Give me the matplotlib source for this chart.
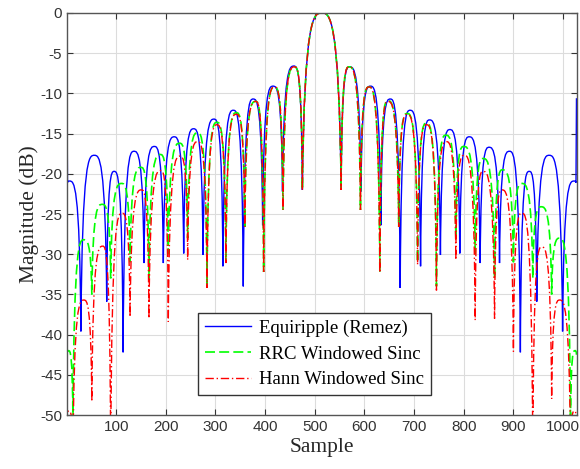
import matplotlib
matplotlib.use("Agg")
import matplotlib.pyplot as plt
from matplotlib.path import Path
from matplotlib.patches import PathPatch

# lobe nulls / peaks (x = sample, y = dB)
blue_null_x = [2, 29, 81, 114, 156, 195, 236, 275, 315, 356, 395, 435, 475,
               553, 593, 633, 672, 713, 753, 792, 833, 872, 914, 947, 999, 1026]
blue_null_db = [-21.1, -39.6, -35.9, -42.2, -31.1, -31.1, -29.9, -30.1, -31.5, -34.0, -26.4, -22.2, -22.0,
                -22.0, -22.2, -26.4, -34.2, -31.5, -30.1, -29.9, -31.1, -31.1, -42.2, -35.9, -39.6, -21.1]
blue_peak_x = [6, 56, 96, 136, 177, 217, 256, 297, 336, 376, 416, 458, 514,
               570, 612, 652, 692, 731, 772, 811, 851, 892, 932, 972, 1022]
blue_peak_db = [-20.9, -17.7, -19.7, -17.2, -16.6, -15.4, -14.4, -13.2, -12.1, -10.7, -9.1, -6.6, 0.0,
                -6.7, -9.1, -10.7, -12.1, -13.3, -14.5, -15.4, -16.7, -17.2, -19.7, -17.7, -20.9]
blue_edge_x = [1, 1027]
blue_edge_db = [-10.6, -10.6]

green_null_x = [1, 13, 51, 89, 128, 166, 205, 244, 283, 321, 359, 397, 436, 475,
                553, 592, 631, 669, 707, 745, 784, 823, 862, 900, 939, 977, 1015, 1027]
green_null_db = [-42.5, -51.0, -35.0, -33.0, -31.0, -33.0, -30.0, -28.0, -34.0, -31.0, -26.6, -32.2, -24.5, -22.0,
                 -22.0, -24.5, -32.2, -26.6, -31.0, -34.0, -28.0, -30.0, -33.0, -31.0, -33.0, -35.0, -51.0, -42.5]
green_peak_x = [4, 35, 72, 111, 150, 189, 228, 264, 303, 342, 381, 419, 459, 514,
                569, 609, 647, 686, 725, 764, 800, 839, 878, 917, 956, 993, 1024]
green_peak_db = [-42.0, -28.2, -23.8, -21.2, -19.2, -17.6, -16.2, -14.9, -13.6, -12.4, -11.0, -9.2, -6.7, 0.0,
                 -6.7, -9.2, -10.9, -12.5, -13.7, -15.2, -16.6, -18.1, -19.5, -21.2, -24.1, -28.0, -42.0]

red_null_x = [1, 13, 51, 89, 128, 166, 205, 244, 283, 321, 359, 397, 436, 475,
              553, 592, 631, 669, 707, 745, 784, 823, 862, 900, 939, 977, 1015, 1027]
red_null_db = [-51.0, -55.0, -48.3, -55.0, -37.8, -38.0, -38.4, -30.7, -34.2, -31.1, -26.6, -32.2, -24.5, -22.0,
               -22.0, -24.5, -32.3, -26.6, -31.3, -34.5, -30.7, -38.2, -38.0, -42.1, -55.0, -48.0, -55.0, -51.0]
red_peak_x = [5, 35, 73, 112, 151, 190, 229, 264, 303, 342, 381, 419, 459, 514,
              569, 609, 647, 686, 725, 765, 801, 839, 877, 917, 957, 993, 1023]
red_peak_db = [-49.5, -35.7, -29.0, -24.9, -22.0, -19.6, -17.8, -16.0, -13.9, -12.6, -11.0, -9.2, -6.7, 0.0,
               -6.7, -9.2, -11.0, -12.6, -13.9, -16.0, -17.7, -19.7, -22.0, -24.9, -29.1, -35.7, -49.5]

labels = ["Equiripple (Remez)", "RRC Windowed Sinc", "Hann Windowed Sinc"]
x_ticks = [100, 200, 300, 400, 500, 600, 700, 800, 900, 1000]
y_ticks = [0, -5, -10, -15, -20, -25, -30, -35, -40, -45, -50]


def lobe_path(nx, ny, px, py, edge_x=None, edge_y=None):
    # arches between nulls: steep at the null, flat at the peak
    verts, codes = [], []
    if edge_x is not None:
        verts += [(edge_x[0], edge_y[0]), (nx[0], ny[0])]
        codes += [Path.MOVETO, Path.LINETO]
    else:
        verts.append((nx[0], ny[0]))
        codes.append(Path.MOVETO)
    for i in range(len(px)):
        x0, y0, xp, yp, x1, y1 = nx[i], ny[i], px[i], py[i], nx[i + 1], ny[i + 1]
        verts += [(x0 + 0.1 * (xp - x0), yp), (x0 + 0.6 * (xp - x0), yp), (xp, yp)]
        verts += [(x1 - 0.6 * (x1 - xp), yp), (x1 - 0.1 * (x1 - xp), yp), (x1, y1)]
        codes += [Path.CURVE4] * 6
    if edge_x is not None:
        verts.append((edge_x[1], edge_y[1]))
        codes.append(Path.LINETO)
    return Path(verts, codes)


plt.rcParams["axes.unicode_minus"] = False
serif = "Liberation Serif"
sans = "Liberation Sans"

fig = plt.figure(figsize=(5.8, 4.69), dpi=100)
ax = fig.add_axes([0.1155, 0.1151, 0.8793, 0.8572])

styles = [
    dict(color="#0000ff", lw=1.0, ls="-"),
    dict(color="#00ff00", lw=1.2, ls=(0, (6, 2.5))),
    dict(color="#ff0000", lw=1.0, ls=(0, (6, 2, 1, 2))),
]
paths = [
    lobe_path(blue_null_x, blue_null_db, blue_peak_x, blue_peak_db, blue_edge_x, blue_edge_db),
    lobe_path(green_null_x, green_null_db, green_peak_x, green_peak_db),
    lobe_path(red_null_x, red_null_db, red_peak_x, red_peak_db),
]
for p, st, lab in zip(paths, styles, labels):
    ax.add_patch(PathPatch(p, fill=False, edgecolor=st["color"], lw=st["lw"], linestyle=st["ls"]))
    ax.plot([], [], color=st["color"], lw=st["lw"], ls=st["ls"], label=lab)

ax.set_xlim(1, 1028)
ax.set_ylim(-50, 0)
ax.set_xticks(x_ticks)
ax.set_yticks(y_ticks)
ax.grid(True, color="#dcdcdc", lw=0.8)
ax.set_axisbelow(True)
ax.tick_params(direction="in", top=True, right=True, length=4, width=0.8,
               colors="#333333", labelsize=11)
for lbl in ax.get_xticklabels() + ax.get_yticklabels():
    lbl.set_family(sans)
for s in ax.spines.values():
    s.set_color("#555555")
    s.set_linewidth(1.0)

ax.set_xlabel("Sample", family=serif, fontsize=15.5, color="#262626", labelpad=3)
ax.set_ylabel("Magnitude (dB)", family=serif, fontsize=15.5, color="#262626", labelpad=1)

leg = ax.legend(loc="lower left", bbox_to_anchor=(0.257, 0.05), borderaxespad=0,
                prop={"family": serif, "size": 13.5}, fancybox=False, framealpha=1,
                edgecolor="#333333", handlelength=2.5, handletextpad=0.4,
                labelspacing=0.46, borderpad=0.35)
leg.get_frame().set_linewidth(1.0)

fig.savefig("out.png", dpi=100)
